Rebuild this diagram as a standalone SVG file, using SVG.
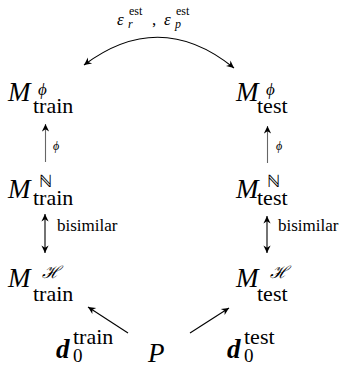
<svg xmlns="http://www.w3.org/2000/svg" width="349" height="367" viewBox="0 0 349 367" font-family="Liberation Serif">
<defs>
<marker id="ah" viewBox="-8 -4 9 8" refX="0" refY="0" markerWidth="9" markerHeight="8" markerUnits="userSpaceOnUse" orient="auto-start-reverse">
<path d="M0,0 L-7.5,-3.6 L-5.2,0 L-7.5,3.6 Z" fill="#000"/>
</marker>
</defs>
<g id="connectors" fill="none" stroke="#000" stroke-width="1.1">
<path d="M84,65 Q160,8 234,68" marker-start="url(#ah)" marker-end="url(#ah)"/>
<line x1="45.5" y1="162" x2="45.5" y2="124" stroke="#666" marker-end="url(#ah)"/>
<line x1="267.5" y1="163" x2="267.5" y2="126" stroke="#666" marker-end="url(#ah)"/>
<line x1="45" y1="214" x2="45" y2="253" marker-start="url(#ah)" marker-end="url(#ah)"/>
<line x1="267" y1="216" x2="267" y2="253" marker-start="url(#ah)" marker-end="url(#ah)"/>
<line x1="128" y1="333" x2="88" y2="307" marker-end="url(#ah)"/>
<line x1="190" y1="333" x2="229" y2="308" marker-end="url(#ah)"/>
</g>
<text font-family="Liberation Serif" font-style="italic" font-size="17" x="117" y="25">ε</text>
<text font-family="Liberation Serif" font-style="italic" font-size="12" x="128" y="28">r</text>
<text font-family="Liberation Serif" font-size="12" x="129" y="15">est</text>
<text font-family="Liberation Serif" font-size="17" x="152" y="25">,</text>
<text font-family="Liberation Serif" font-style="italic" font-size="17" x="164" y="25">ε</text>
<text font-family="Liberation Serif" font-style="italic" font-size="12" x="175" y="28">p</text>
<text font-family="Liberation Serif" font-size="12" x="176" y="15">est</text>
<text font-family="Liberation Serif" font-style="italic" font-size="12" x="53" y="150">ϕ</text>
<text font-family="Liberation Serif" font-style="italic" font-size="12" x="276" y="150">ϕ</text>
<text font-family="Liberation Serif" font-size="17" x="57" y="231">bisimilar</text>
<text font-family="Liberation Serif" font-size="17" x="278" y="231">bisimilar</text>

<g id="m-phi-train">
<text font-style="italic" font-size="27" x="8" y="101">M</text>
<text font-style="italic" font-size="17" x="38" y="95">ϕ</text>
<text font-size="22" x="33" y="113">train</text>
</g>
<g id="m-phi-test">
<text font-style="italic" font-size="27" x="236" y="101">M</text>
<text font-style="italic" font-size="17" x="266" y="95">ϕ</text>
<text font-size="22" x="257" y="113">test</text>
</g>
<g id="m-n-train">
<text font-style="italic" font-size="27" x="8" y="198">M</text>
<text font-size="17" x="39" y="187">ℕ</text>
<text font-size="22" x="33" y="205">train</text>
</g>
<g id="m-n-test">
<text font-style="italic" font-size="27" x="236" y="198">M</text>
<text font-size="17" x="267" y="187">ℕ</text>
<text font-size="22" x="257" y="205">test</text>
</g>
<g id="m-h-train">
<text font-style="italic" font-size="27" x="8" y="287">M</text>
<text font-style="italic" font-size="17" x="42" y="278">ℋ</text>
<text font-size="22" x="33" y="301">train</text>
</g>
<g id="m-h-test">
<text font-style="italic" font-size="27" x="236" y="287">M</text>
<text font-style="italic" font-size="17" x="270" y="278">ℋ</text>
<text font-size="22" x="257" y="301">test</text>
</g>
<g id="d0-train">
<text font-style="italic" font-weight="bold" font-size="27" x="56" y="358">d</text>
<text font-size="19" x="73" y="362">0</text>
<text font-size="22" x="73" y="344">train</text>
</g>
<g id="p">
<text font-style="italic" font-size="27" x="148" y="362">P</text>
</g>
<g id="d0-test">
<text font-style="italic" font-weight="bold" font-size="27" x="227" y="358">d</text>
<text font-size="19" x="244" y="362">0</text>
<text font-size="22" x="244" y="344">test</text>
</g>
</svg>
